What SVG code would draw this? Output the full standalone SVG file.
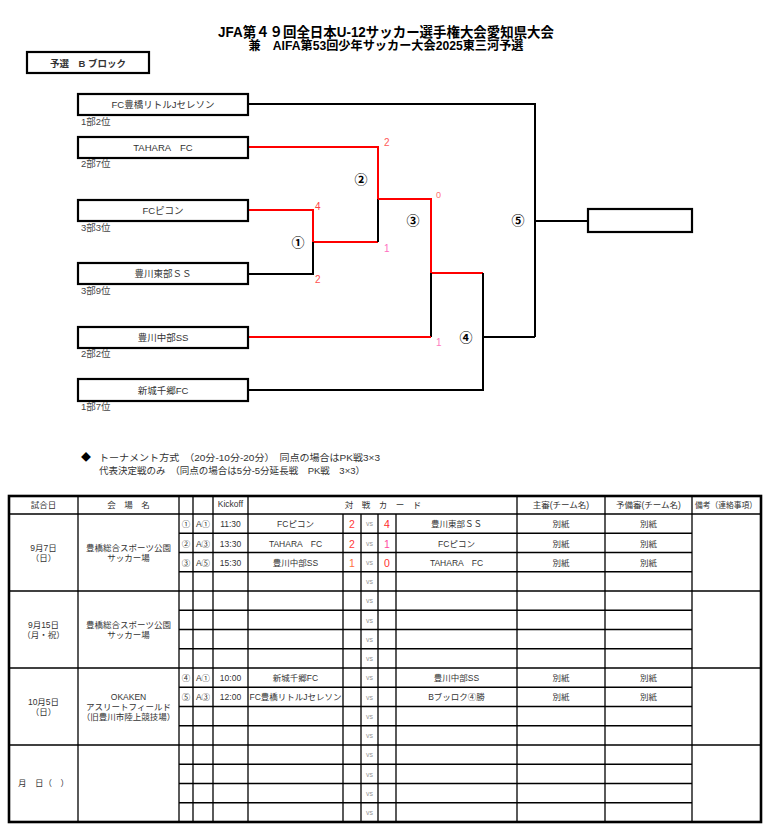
<svg xmlns="http://www.w3.org/2000/svg" width="767" height="828" viewBox="0 0 767 828">
<style>
text{font-family:"Liberation Sans","Noto Sans CJK JP",sans-serif;fill:#333}
.title{font-weight:bold;fill:#000;text-anchor:middle}
.box{fill:#fff;stroke:#000;stroke-width:2.2}
.tn{font-size:9.5px;text-anchor:middle}
.rk{font-size:9.5px;fill:#444}
.bk{fill:none;stroke:#000;stroke-width:2}
.rd{fill:none;stroke:#f00;stroke-width:2}
.mn{font-size:13px;font-weight:bold;fill:#000;text-anchor:middle}
.sc{font-size:10px}
.tc{font-size:8.5px;text-anchor:middle}
.vs{font-size:7px;fill:#999;text-anchor:middle}
.ts{font-size:10.5px;text-anchor:middle}
.grid{stroke:#000;stroke-width:1.3;fill:none}
</style>

<g id="title">
<text class="title" x="386" y="37" font-size="14" textLength="336" lengthAdjust="spacingAndGlyphs">JFA第４９回全日本U-12サッカー選手権大会愛知県大会</text>
<text class="title" x="386" y="50" font-size="12.5" textLength="275" lengthAdjust="spacingAndGlyphs">兼　AIFA第53回少年サッカー大会2025東三河予選</text>
</g>

<g id="block-label">
<rect x="27" y="52" width="122" height="21" fill="#fff" stroke="#000" stroke-width="2.2"/>
<text x="88" y="66.5" font-size="9.5" font-weight="bold" fill="#000" text-anchor="middle">予選　B ブロック</text>
</g>

<g id="connectors">
<!-- match 1 -->
<polyline class="rd" points="248,210 313,210 313,242 378,242"/>
<polyline class="bk" points="248,274 313,274 313,242"/>
<!-- match 2 -->
<polyline class="rd" points="248,147 378,147 378,199"/>
<polyline class="bk" points="378,199 378,242"/>
<!-- match 3 -->
<polyline class="rd" points="378,199 431,199 431,273 483,273"/>
<polyline class="bk" points="431,273 431,337"/>
<polyline class="rd" points="248,337 431,337"/>
<!-- match 4 -->
<polyline class="bk" points="483,273 483,390 248,390"/>
<polyline class="bk" points="483,337 535,337"/>
<!-- match 5 -->
<polyline class="bk" points="248,104 535,104 535,337"/>
<polyline class="bk" points="535,221 588,221"/>
</g>

<g id="team-1">
<rect class="box" x="78" y="94" width="170" height="21"/>
<text class="tn" x="163" y="108">FC豊橋リトルJセレソン</text>
<text class="rk" x="81" y="125">1部2位</text>
</g>
<g id="team-2">
<rect class="box" x="78" y="137" width="170" height="21"/>
<text class="tn" x="163" y="151">TAHARA　FC</text>
<text class="rk" x="81" y="167">2部7位</text>
</g>
<g id="team-3">
<rect class="box" x="78" y="200" width="170" height="21"/>
<text class="tn" x="163" y="214">FCピコン</text>
<text class="rk" x="81" y="231">3部3位</text>
</g>
<g id="team-4">
<rect class="box" x="78" y="263" width="170" height="21"/>
<text class="tn" x="163" y="277">豊川東部ＳＳ</text>
<text class="rk" x="81" y="294">3部9位</text>
</g>
<g id="team-5">
<rect class="box" x="78" y="327" width="170" height="21"/>
<text class="tn" x="163" y="341">豊川中部SS</text>
<text class="rk" x="81" y="357">2部2位</text>
</g>
<g id="team-6">
<rect class="box" x="78" y="379" width="170" height="22"/>
<text class="tn" x="163" y="394">新城千郷FC</text>
<text class="rk" x="81" y="410">1部7位</text>
</g>
<g id="winner">
<rect class="box" x="588" y="209" width="104" height="23"/>
</g>

<g id="match-labels">
<text class="mn" x="298" y="247">①</text>
<text class="mn" x="361" y="184">②</text>
<text class="mn" x="413" y="225">③</text>
<text class="mn" x="466" y="342">④</text>
<text class="mn" x="518" y="225">⑤</text>
</g>

<g id="scores">
<text class="sc" x="384" y="146" style="fill:#ff5a5a">2</text>
<text class="sc" x="315" y="210" style="fill:#ff4040">4</text>
<text class="sc" x="315" y="283" style="fill:#ff5050">2</text>
<text class="sc" x="384" y="252" style="fill:#ff6ec0">1</text>
<text x="436" y="198" font-size="9" style="fill:#ff7070">0</text>
<text class="sc" x="436" y="346" style="fill:#ff7ac0">1</text>
</g>

<g id="notes">
<text x="81" y="461" font-size="10" style="fill:#000">◆</text>
<text x="99" y="461" font-size="9.5" textLength="281" lengthAdjust="spacingAndGlyphs">トーナメント方式　（20分-10分-20分）　同点の場合はPK戦3×3</text>
<text x="99" y="474" font-size="9.5" textLength="266" lengthAdjust="spacingAndGlyphs">代表決定戦のみ　（同点の場合は5分-5分延長戦　PK戦　3×3）</text>
</g>

<g id="table">
<g class="grid">
<line x1="78" y1="496" x2="78" y2="822"/>
<line x1="179" y1="496" x2="179" y2="822"/>
<line x1="193" y1="496" x2="193" y2="822"/>
<line x1="213" y1="496" x2="213" y2="822"/>
<line x1="248" y1="496" x2="248" y2="822"/>
<line x1="343" y1="514" x2="343" y2="822"/>
<line x1="361" y1="514" x2="361" y2="822"/>
<line x1="378" y1="514" x2="378" y2="822"/>
<line x1="396" y1="514" x2="396" y2="822"/>
<line x1="517" y1="496" x2="517" y2="822"/>
<line x1="605" y1="496" x2="605" y2="822"/>
<line x1="692" y1="496" x2="692" y2="822"/>
<line x1="9" y1="514" x2="761" y2="514"/>
<line x1="9" y1="591" x2="761" y2="591"/>
<line x1="9" y1="668" x2="761" y2="668"/>
<line x1="9" y1="745" x2="761" y2="745"/>
<line x1="179" y1="533.25" x2="692" y2="533.25"/>
<line x1="179" y1="552.5" x2="692" y2="552.5"/>
<line x1="179" y1="571.75" x2="692" y2="571.75"/>
<line x1="179" y1="610.25" x2="692" y2="610.25"/>
<line x1="179" y1="629.5" x2="692" y2="629.5"/>
<line x1="179" y1="648.75" x2="692" y2="648.75"/>
<line x1="179" y1="687.25" x2="692" y2="687.25"/>
<line x1="179" y1="706.5" x2="692" y2="706.5"/>
<line x1="179" y1="725.75" x2="692" y2="725.75"/>
<line x1="179" y1="764.25" x2="692" y2="764.25"/>
<line x1="179" y1="783.5" x2="692" y2="783.5"/>
<line x1="179" y1="802.75" x2="692" y2="802.75"/>
</g>
<rect x="9" y="496" width="752" height="326" fill="none" stroke="#000" stroke-width="2.6"/>

<g id="table-header">
<text class="tc" x="43.5" y="508">試合日</text>
<text class="tc" x="128.5" y="508">会　場　名</text>
<text class="tc" x="230.5" y="507">Kickoff</text>
<text class="tc" x="383" y="508">対　戦　カ　ー　ド</text>
<text class="tc" x="561" y="508">主審(チーム名)</text>
<text class="tc" x="648.5" y="508">予備審(チーム名)</text>
<text class="tc" x="726" y="508" textLength="62" lengthAdjust="spacingAndGlyphs">備考（連絡事項）</text>
</g>

<g id="day-1">
<text class="tc" x="43.5" y="551">9月7日</text>
<text class="tc" x="43.5" y="561">（日）</text>
<text class="tc" x="128.5" y="551">豊橋総合スポーツ公園</text>
<text class="tc" x="128.5" y="561">サッカー場</text>
<text class="tc" x="186" y="527">①</text><text class="tc" x="203" y="527">A①</text><text class="tc" x="230.5" y="527">11:30</text>
<text class="tc" x="295.5" y="527">FCピコン</text>
<text class="ts" x="352" y="528" style="fill:#ff3b3b">2</text>
<text class="ts" x="387" y="528" style="fill:#ff2a2a">4</text>
<text class="tc" x="456.5" y="527">豊川東部ＳＳ</text>
<text class="tc" x="561" y="527">別紙</text><text class="tc" x="648.5" y="527">別紙</text>
<text class="tc" x="186" y="546.5">②</text><text class="tc" x="203" y="546.5">A③</text><text class="tc" x="230.5" y="546.5">13:30</text>
<text class="tc" x="295.5" y="546.5">TAHARA　FC</text>
<text class="ts" x="352" y="547.5" style="fill:#ff3b3b">2</text>
<text class="ts" x="387" y="547.5" style="fill:#ff4aa0">1</text>
<text class="tc" x="456.5" y="546.5">FCピコン</text>
<text class="tc" x="561" y="546.5">別紙</text><text class="tc" x="648.5" y="546.5">別紙</text>
<text class="tc" x="186" y="565.5">③</text><text class="tc" x="203" y="565.5">A⑤</text><text class="tc" x="230.5" y="565.5">15:30</text>
<text class="tc" x="295.5" y="565.5">豊川中部SS</text>
<text class="ts" x="352" y="566.5" style="fill:#ff7040">1</text>
<text class="ts" x="387" y="566.5" style="fill:#ff3030">0</text>
<text class="tc" x="456.5" y="565.5">TAHARA　FC</text>
<text class="tc" x="561" y="565.5">別紙</text><text class="tc" x="648.5" y="565.5">別紙</text>
</g>

<g id="day-2">
<text class="tc" x="43.5" y="628">9月15日</text>
<text class="tc" x="43.5" y="638">（月・祝）</text>
<text class="tc" x="128.5" y="628">豊橋総合スポーツ公園</text>
<text class="tc" x="128.5" y="638">サッカー場</text>
</g>

<g id="day-3">
<text class="tc" x="43.5" y="705">10月5日</text>
<text class="tc" x="43.5" y="715">（日）</text>
<text class="tc" x="128.5" y="700">OKAKEN</text>
<text class="tc" x="128.5" y="710">アスリートフィールド</text>
<text class="tc" x="128.5" y="720">（旧豊川市陸上競技場）</text>
<text class="tc" x="186" y="681">④</text><text class="tc" x="203" y="681">A①</text><text class="tc" x="230.5" y="681">10:00</text>
<text class="tc" x="295.5" y="681">新城千郷FC</text>
<text class="tc" x="456.5" y="681">豊川中部SS</text>
<text class="tc" x="561" y="681">別紙</text><text class="tc" x="648.5" y="681">別紙</text>
<text class="tc" x="186" y="700">⑤</text><text class="tc" x="203" y="700">A③</text><text class="tc" x="230.5" y="700">12:00</text>
<text class="tc" x="295.5" y="700">FC豊橋リトルJセレソン</text>
<text class="tc" x="456.5" y="700">Bブッロク④勝</text>
<text class="tc" x="561" y="700">別紙</text><text class="tc" x="648.5" y="700">別紙</text>
</g>

<g id="day-4">
<text class="tc" x="43.5" y="786">月　日（　）</text>
</g>

<g id="vs-marks">
<text class="vs" x="369.5" y="526">vs</text>
<text class="vs" x="369.5" y="545.5">vs</text>
<text class="vs" x="369.5" y="564.5">vs</text>
<text class="vs" x="369.5" y="584">vs</text>
<text class="vs" x="369.5" y="603">vs</text>
<text class="vs" x="369.5" y="622.5">vs</text>
<text class="vs" x="369.5" y="641.5">vs</text>
<text class="vs" x="369.5" y="661">vs</text>
<text class="vs" x="369.5" y="680">vs</text>
<text class="vs" x="369.5" y="699.5">vs</text>
<text class="vs" x="369.5" y="718.5">vs</text>
<text class="vs" x="369.5" y="738">vs</text>
<text class="vs" x="369.5" y="757">vs</text>
<text class="vs" x="369.5" y="776.5">vs</text>
<text class="vs" x="369.5" y="795.5">vs</text>
<text class="vs" x="369.5" y="815">vs</text>
</g>
</g>
</svg>
